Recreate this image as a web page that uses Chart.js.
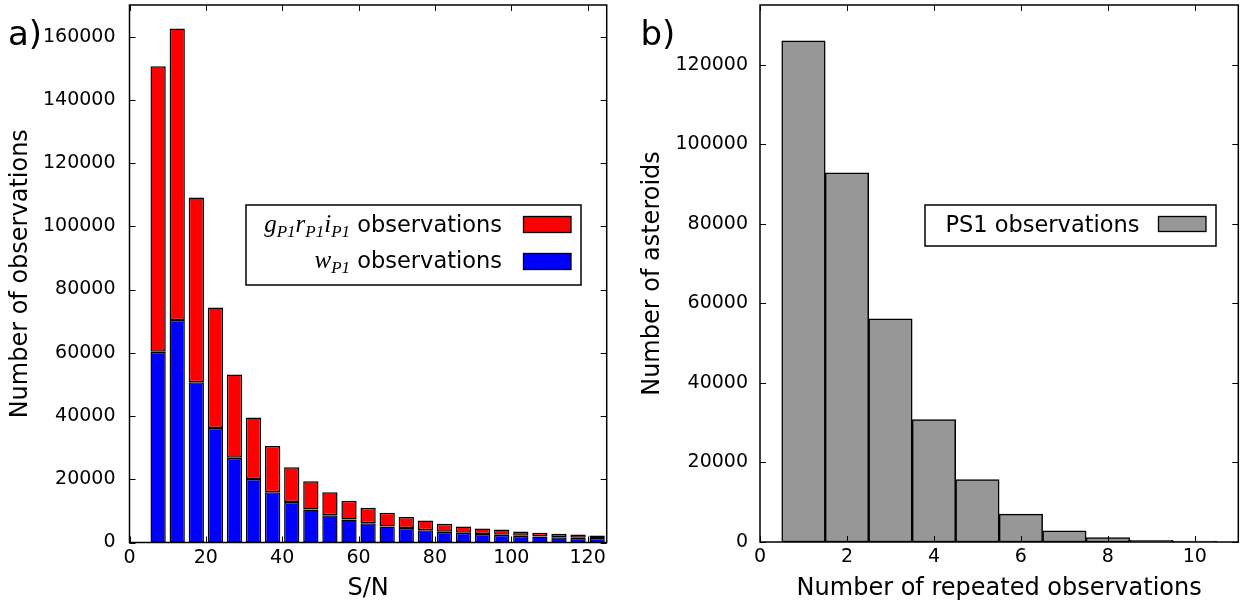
<!DOCTYPE html>
<html>
<head>
<meta charset="utf-8">
<script src="https://cdn.jsdelivr.net/npm/chart.js@4.4.0/dist/chart.umd.min.js"></script>
<style>
  body { margin: 0; background: #fff; }
  canvas { position: absolute; top: 0; }
  #left-chart { left: 0; }
  #right-chart { left: 621px; }
</style>
</head>
<body>
<canvas id="left-chart" width="621" height="603"></canvas>
<canvas id="right-chart" width="622" height="603"></canvas>
<script>
// a) observations per S/N bin (bin centres)
const snBins = [7.5, 12.5, 17.5, 22.5, 27.5, 32.5, 37.5, 42.5, 47.5, 52.5, 57.5, 62.5,
                67.5, 72.5, 77.5, 82.5, 87.5, 92.5, 97.5, 102.5, 107.5, 112.5, 117.5, 122.5];
const wObs = [60300, 70400, 50700, 36200, 26800, 20100, 15900, 12800, 10400, 8650, 7300, 6100,
              5100, 4550, 3900, 3400, 3050, 2650, 2450, 2100, 1900, 1700, 1500, 1400];
const griObs = [90300, 92200, 58400, 38100, 26300, 19400, 14600, 11000, 9000, 7250, 5900, 4900,
                4300, 3550, 3050, 2500, 2000, 1750, 1650, 1400, 1150, 1050, 1050, 800];
const snTicks = [0, 20, 40, 60, 80, 100, 120];
const obsTicks = [0, 20000, 40000, 60000, 80000, 100000, 120000, 140000, 160000];

// b) asteroids per number of repeated observations
const repeats = [1, 2, 3, 4, 5, 6, 7, 8, 9, 10];
const asteroids = [126000, 92800, 56100, 30800, 15700, 7000, 2800, 1100, 450, 200];
const repTicks = [0, 2, 4, 6, 8, 10];
const astTicks = [0, 20000, 40000, 60000, 80000, 100000, 120000];

const FONT = 'DejaVu Sans';
const tickFont = { family: FONT, size: 19 };
const titleFont = { family: FONT, size: 24 };

// matplotlib style frame with inward ticks on all four sides
const frameTicks = {
    id: 'frameTicks',
    afterDatasetsDraw(chart) {
        const { ctx, chartArea: a, scales: { x, y } } = chart;
        ctx.save();
        ctx.strokeStyle = '#000';
        ctx.lineWidth = 1;
        ctx.beginPath();
        x.ticks.forEach(t => {
            const px = Math.round(x.getPixelForValue(t.value)) + 0.5;
            ctx.moveTo(px, a.bottom); ctx.lineTo(px, a.bottom - 6);
            ctx.moveTo(px, a.top); ctx.lineTo(px, a.top + 6);
        });
        y.ticks.forEach(t => {
            const py = Math.round(y.getPixelForValue(t.value)) + 0.5;
            ctx.moveTo(a.left, py); ctx.lineTo(a.left + 6, py);
            ctx.moveTo(a.right, py); ctx.lineTo(a.right - 6, py);
        });
        ctx.stroke();
        ctx.lineWidth = 1.5;
        ctx.strokeRect(a.left, a.top, a.width, a.height);
        ctx.restore();
    }
};

// legend box: text (with math parts) on the left, colour patch on the right
const boxLegend = {
    id: 'boxLegend',
    afterDraw(chart, args, opts) {
        const ctx = chart.ctx;
        ctx.save();
        ctx.fillStyle = '#fff';
        ctx.fillRect(opts.box[0], opts.box[1], opts.box[2], opts.box[3]);
        ctx.strokeStyle = '#000';
        ctx.lineWidth = 1.5;
        ctx.strokeRect(opts.box[0], opts.box[1], opts.box[2], opts.box[3]);
        ctx.textBaseline = 'alphabetic';
        ctx.textAlign = 'left';
        opts.rows.forEach(row => {
            let width = 0;
            row.parts.forEach(p => {
                ctx.font = p.font;
                width += ctx.measureText(p.text).width;
            });
            let x = opts.textRight - width;
            row.parts.forEach(p => {
                ctx.font = p.font;
                ctx.fillStyle = '#000';
                ctx.fillText(p.text, x, row.baseline + (p.dy || 0));
                x += ctx.measureText(p.text).width;
            });
            ctx.fillStyle = row.color;
            ctx.fillRect(opts.patchX, row.patchY, opts.patchW, opts.patchH);
            ctx.lineWidth = 1.3;
            ctx.strokeRect(opts.patchX, row.patchY, opts.patchW, opts.patchH);
        });
        ctx.font = '34px ' + FONT;
        ctx.fillStyle = '#000';
        ctx.fillText(opts.panel[0], opts.panel[1], opts.panel[2]);
        ctx.restore();
    }
};

const mathFont = 'italic 25px "Liberation Serif"';
const subFont = 'italic 17px "Liberation Serif"';
const textFont = '22.5px ' + FONT;

function fixedTicks(values) {
    return scale => { scale.ticks = values.map(v => ({ value: v })); };
}
function fitX(height) {
    return s => { s.height = height; s.paddingLeft = 0; s.paddingRight = 0; };
}
function fitY(width) {
    return s => { s.width = width; s.paddingTop = 0; s.paddingBottom = 0; };
}

new Chart(document.getElementById('left-chart'), {
    type: 'bar',
    data: {
        datasets: [{
            label: 'w_P1 observations',
            data: snBins.map((x, i) => ({ x: x, y: wObs[i] })),
            backgroundColor: '#0000ff'
        }, {
            label: 'g_P1 r_P1 i_P1 observations',
            data: snBins.map((x, i) => ({ x: x, y: griObs[i] })),
            backgroundColor: '#ff0000'
        }]
    },
    options: {
        responsive: false,
        animation: false,
        layout: { padding: { top: 5, right: 14.3, left: 0, bottom: 0 } },
        datasets: {
            bar: {
                barPercentage: 0.8,
                categoryPercentage: 1,
                borderColor: '#000',
                borderWidth: 1.5,
                borderSkipped: false
            }
        },
        scales: {
            x: {
                type: 'linear',
                min: 0,
                max: 125,
                offset: false,
                stacked: true,
                grid: { display: false },
                border: { display: false },
                ticks: { font: tickFont, color: '#000', padding: -4, callback: v => String(v) },
                afterBuildTicks: fixedTicks(snTicks),
                afterFit: fitX(60.5),
                title: { display: true, text: 'S/N', font: titleFont, color: '#000', padding: { top: 0, bottom: 0 } }
            },
            y: {
                min: 0,
                max: 170000,
                stacked: true,
                grid: { display: false },
                border: { display: false },
                ticks: { font: tickFont, color: '#000', padding: 6, callback: v => String(v) },
                afterBuildTicks: fixedTicks(obsTicks),
                afterFit: fitY(129.5),
                title: { display: true, text: 'Number of observations', font: titleFont, color: '#000', padding: { top: 6, bottom: 0 } }
            }
        },
        plugins: {
            legend: { display: false },
            tooltip: { enabled: false },
            boxLegend: {
                box: [246, 205, 335, 80],
                textRight: 502,
                patchX: 523.5,
                patchW: 47.5,
                patchH: 16,
                panel: ['a)', 8, 45],
                rows: [{
                    color: '#ff0000',
                    baseline: 231.5,
                    patchY: 216.5,
                    parts: [
                        { text: 'g', font: mathFont },
                        { text: 'P1', font: subFont, dy: 5 },
                        { text: 'r', font: mathFont },
                        { text: 'P1', font: subFont, dy: 5 },
                        { text: 'i', font: mathFont },
                        { text: 'P1', font: subFont, dy: 5 },
                        { text: ' observations', font: textFont }
                    ]
                }, {
                    color: '#0000ff',
                    baseline: 268,
                    patchY: 253.5,
                    parts: [
                        { text: 'w', font: mathFont },
                        { text: 'P1', font: subFont, dy: 5 },
                        { text: ' observations', font: textFont }
                    ]
                }]
            }
        }
    },
    plugins: [frameTicks, boxLegend]
});

new Chart(document.getElementById('right-chart'), {
    type: 'bar',
    data: {
        datasets: [{
            label: 'PS1 observations',
            data: repeats.map((x, i) => ({ x: x, y: asteroids[i] })),
            backgroundColor: '#979797',
            borderColor: '#000',
            borderWidth: 1.5,
            borderSkipped: false,
            barPercentage: 1,
            categoryPercentage: 1
        }]
    },
    options: {
        responsive: false,
        animation: false,
        layout: { padding: { top: 5, right: 4.7, left: 0, bottom: 0 } },
        scales: {
            x: {
                type: 'linear',
                min: 0,
                max: 11,
                offset: false,
                grid: { display: false },
                border: { display: false },
                ticks: { font: tickFont, color: '#000', padding: -4, callback: v => String(v) },
                afterBuildTicks: fixedTicks(repTicks),
                afterFit: fitX(61),
                title: { display: true, text: 'Number of repeated observations', font: titleFont, color: '#000', padding: { top: 0, bottom: 0 } }
            },
            y: {
                min: 0,
                max: 135000,
                grid: { display: false },
                border: { display: false },
                ticks: { font: tickFont, color: '#000', padding: 4, callback: v => String(v) },
                afterBuildTicks: fixedTicks(astTicks),
                afterFit: fitY(139),
                title: { display: true, text: 'Number of asteroids', font: titleFont, color: '#000', padding: { top: 17, bottom: 0 } }
            }
        },
        plugins: {
            legend: { display: false },
            tooltip: { enabled: false },
            boxLegend: {
                box: [304, 205, 291, 41],
                textRight: 518.5,
                patchX: 537.5,
                patchW: 47.5,
                patchH: 15,
                panel: ['b)', 19.5, 45],
                rows: [{
                    color: '#979797',
                    baseline: 232,
                    patchY: 216.5,
                    parts: [{ text: 'PS1 observations', font: textFont }]
                }]
            }
        }
    },
    plugins: [frameTicks, boxLegend]
});
</script>
</body>
</html>
